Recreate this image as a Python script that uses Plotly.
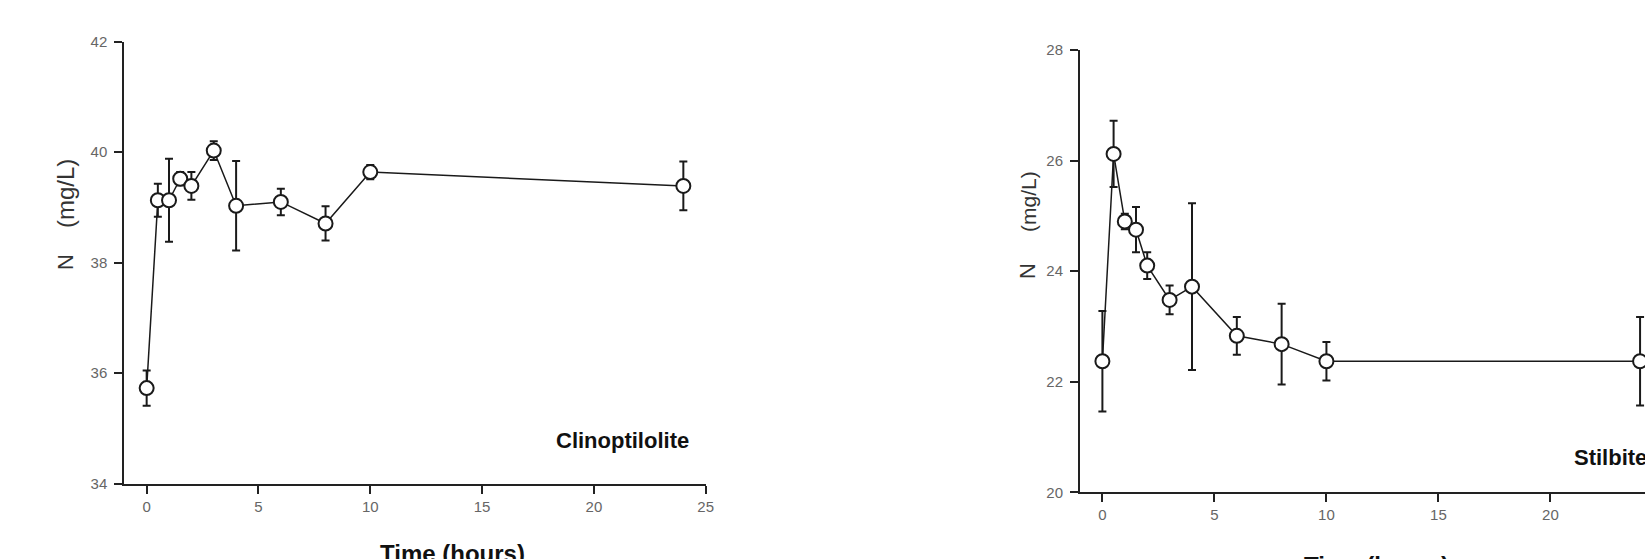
import plotly.graph_objects as go

# ---------------- data ----------------
time_clino = [0, 0.5, 1, 1.5, 2, 3, 4, 6, 8, 10, 24]
n_clino = [35.73, 39.13, 39.13, 39.52, 39.39, 40.03, 39.03, 39.10, 38.71, 39.64, 39.39]
err_clino = [0.32, 0.30, 0.75, 0.12, 0.25, 0.17, 0.81, 0.24, 0.31, 0.13, 0.44]

time_stil = [0, 0.5, 1, 1.5, 2, 3, 4, 6, 8, 10, 24]
n_stil = [22.37, 26.12, 24.90, 24.75, 24.10, 23.48, 23.72, 22.83, 22.68, 22.37, 22.37]
err_stil = [0.91, 0.60, 0.14, 0.41, 0.24, 0.26, 1.51, 0.34, 0.73, 0.35, 0.80]

x_ticks = [0, 5, 10, 15, 20, 25]
clino_yticks = [34, 36, 38, 40, 42]
stil_yticks = [20, 22, 24, 26, 28]

x_title = "Time (hours)"
y_title_n = "N"
y_title_unit = "(mg/L)"
label_clino = "Clinoptilolite"
label_stil = "Stilbite"

# ---------------- layout helpers ----------------
W, H = 1645, 559
FONT = "Liberation Sans, Arial, sans-serif"
INK = "#1a1a1a"


def fx(p):
    return p / W


def fy(p):
    return 1 - p / H


def trace(x, y, err, xa, ya):
    return go.Scatter(
        x=x, y=y, xaxis=xa, yaxis=ya, mode="lines+markers",
        line=dict(color=INK, width=1.5),
        marker=dict(symbol="circle", size=14, color="white",
                    line=dict(color=INK, width=2)),
        error_y=dict(type="data", array=err, visible=True,
                     color=INK, thickness=2, width=4),
        cliponaxis=False, showlegend=False, hoverinfo="x+y",
    )


fig = go.Figure()
fig.add_trace(trace(time_clino, n_clino, err_clino, "x", "y"))
fig.add_trace(trace(time_stil, n_stil, err_stil, "x2", "y2"))

axis_common = dict(
    showline=True, linecolor="#222", linewidth=2, mirror=False,
    ticks="outside", ticklen=8, tickwidth=2, tickcolor="#222",
    showgrid=False, zeroline=False, automargin=False,
    tickfont=dict(family=FONT, size=15, color="#666"),
)

fig.update_layout(
    template="none",
    width=W, height=H,
    margin=dict(l=0, r=0, t=0, b=0, pad=0, autoexpand=False),
    paper_bgcolor="white", plot_bgcolor="white",
    showlegend=False,
    xaxis=dict(domain=[fx(124.3), fx(705.7)], range=[-1, 25],
               tickvals=x_ticks, anchor="y", **axis_common),
    yaxis=dict(domain=[fy(483.7), fy(41.7)], range=[34, 42],
               tickvals=clino_yticks, anchor="x", ticklabelstandoff=4,
               **axis_common),
    xaxis2=dict(domain=[fx(1080), 1.0], range=[-1, 24.22],
                tickvals=x_ticks, anchor="y2", **axis_common),
    yaxis2=dict(domain=[fy(492.3), fy(50)], range=[20, 28],
                tickvals=stil_yticks, anchor="x2", ticklabelstandoff=4,
                **axis_common),
)

ann = []


def add_text(text, xp, yp, size, bold=False, angle=0, color="#333",
             xanchor="center"):
    ann.append(dict(
        text=f"<b>{text}</b>" if bold else text,
        x=fx(xp), y=fy(yp), xref="paper", yref="paper",
        xanchor=xanchor, yanchor="middle", showarrow=False,
        textangle=angle, font=dict(family=FONT, size=size, color=color),
    ))


# y axis titles
add_text(y_title_unit, 65, 194, 24, angle=-90)
add_text(y_title_n, 65, 262, 22, angle=-90)
add_text(y_title_unit, 1029, 202, 21, angle=-90)
add_text(y_title_n, 1027, 271, 22, angle=-90)

# x axis titles
add_text(x_title, 452, 553, 24, bold=True, color="#111")
add_text(x_title, 1376, 565, 24, bold=True, color="#111")

# panel labels
add_text(label_clino, 622, 440, 22, bold=True, color="#111")
add_text(label_stil, 1572, 457, 22, bold=True, color="#111", xanchor="left")

fig.update_layout(annotations=ann)

fig.write_html(
    "out.html",
    config={"displayModeBar": False},
    post_script="document.body.style.margin='0px';"
                "document.body.style.overflow='hidden';",
)
